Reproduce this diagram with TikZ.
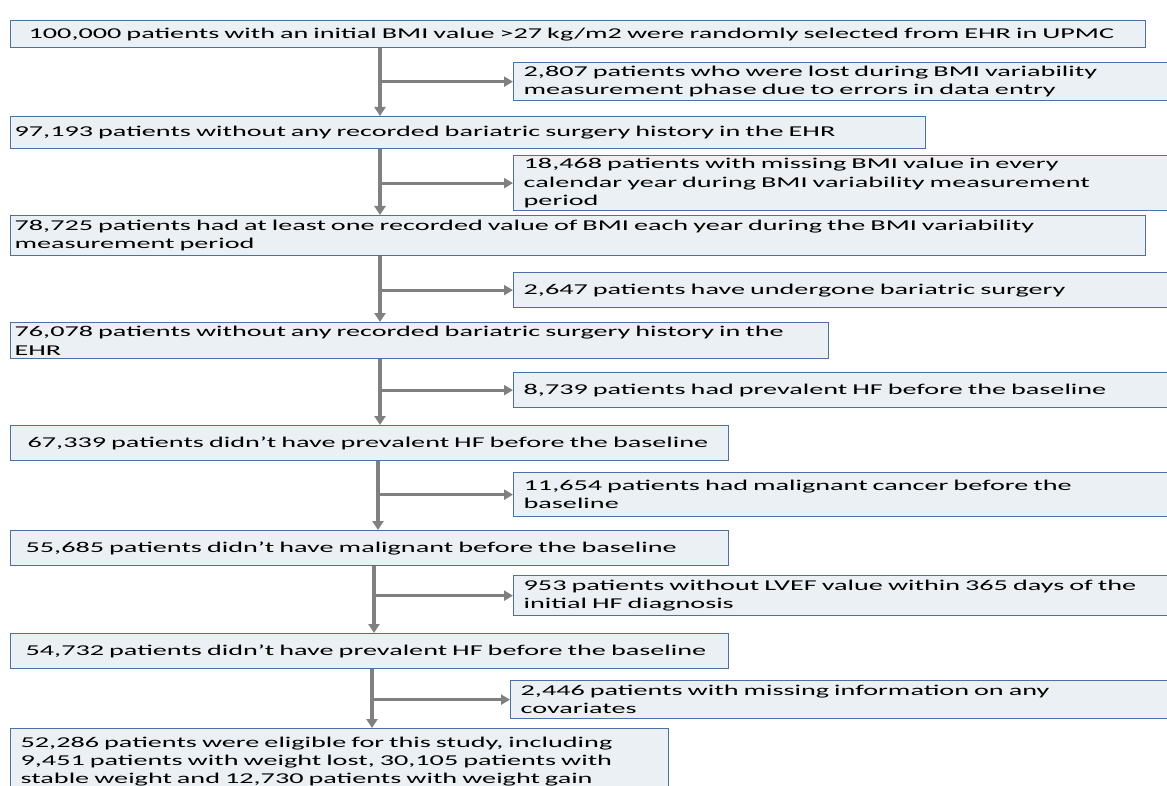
\documentclass[tikz,border=0pt]{standalone}
\usepackage{fontspec}
\setmainfont{Carlito}[FakeStretch=1.88]
\usetikzlibrary{arrows.meta}
\definecolor{boxfill}{HTML}{EAF0F4}
\definecolor{boxline}{HTML}{4C6FA6}
\definecolor{arrowgray}{HTML}{808080}
\tikzset{
  fbox/.style={draw=boxline, line width=1.3pt, fill=boxfill, anchor=north west,
    align=left, inner ysep=0pt, font=\fontsize{15}{18.3}\selectfont},
  vline/.style={draw=arrowgray, line width=4pt, -{Triangle[length=9pt,width=11pt]}},
  hline/.style={draw=arrowgray, line width=3pt, -{Triangle[length=9pt,width=10pt]}},
}
\newcommand{\fbx}[7]{% name, x1, y1, x2, y2, pad, text
  \pgfmathsetlengthmacro{\bw}{(#4-#2)*1pt}%
  \pgfmathsetlengthmacro{\bh}{(#5-#3)*1pt}%
  \pgfmathsetlengthmacro{\tw}{(#4-#2-2*#6)*1pt}%
  \node[fbox, minimum width=\bw, minimum height=\bh, text width=\tw, inner xsep=#6pt] (#1) at (#2,#3) {#7};}
\begin{document}
\begin{tikzpicture}[x=1pt,y=-1pt]
\useasboundingbox (0,0) rectangle (1167,786);
\clip (0,0) rectangle (1167,786);
\fbx{b1}{10}{20}{1145}{47}{18}{100,000 patients with an initial BMI value >27 kg/m2 were randomly selected from EHR in UPMC}
\fbx{s1}{513}{62}{1170}{100}{10}{2,807 patients who were lost during BMI variability\\measurement phase due to errors in data entry}
\fbx{b2}{10}{116}{925}{148}{4}{97,193 patients without any recorded bariatric surgery history in the EHR}
\fbx{s2}{513}{155}{1170}{210}{10}{18,468 patients with missing BMI value in every\\calendar year during BMI variability measurement\\period}
\fbx{b3}{10}{215}{1145}{255}{4}{78,725 patients had at least one recorded value of BMI each year during the BMI variability\\measurement period}
\fbx{s3}{513}{272}{1170}{307}{10}{2,647 patients have undergone bariatric surgery}
\fbx{b4}{10}{322}{828}{358}{4}{76,078 patients without any recorded bariatric surgery history in the\\EHR}
\fbx{s4}{513}{372}{1170}{407}{10}{8,739 patients had prevalent HF before the baseline}
\fbx{b5}{10}{425}{728}{460}{17}{67,339 patients didn’t have prevalent HF before the baseline}
\fbx{s5}{513}{472}{1170}{516}{10}{11,654 patients had malignant cancer before the\\baseline}
\fbx{b6}{10}{530}{728}{565}{15}{55,685 patients didn’t have malignant before the baseline}
\fbx{s6}{513}{575}{1170}{615}{10}{953 patients without LVEF value within 365 days of the\\initial HF diagnosis}
\fbx{b7}{10}{633}{728}{668}{15}{54,732 patients didn’t have prevalent HF before the baseline}
\fbx{s7}{510}{680}{1170}{718}{10}{2,446 patients with missing information on any\\covariates}
\fbx{b8}{10}{728}{668}{794}{10}{52,286 patients were eligible for this study, including\\9,451 patients with weight lost, 30,105 patients with\\stable weight and 12,730 patients with weight gain\\[12pt]}
\coordinate (a1) at (380,0);
\coordinate (a5) at (378,0);
\coordinate (a6) at (374,0);
\coordinate (a7) at (372,0);
\draw[vline] (b1.south -| a1) -- (b2.north -| a1);
\draw[vline] (b2.south -| a1) -- (b3.north -| a1);
\draw[vline] (b3.south -| a1) -- (b4.north -| a1);
\draw[vline] (b4.south -| a1) -- (b5.north -| a1);
\draw[vline] (b5.south -| a5) -- (b6.north -| a5);
\draw[vline] (b6.south -| a6) -- (b7.north -| a6);
\draw[vline] (b7.south -| a7) -- (b8.north -| a7);
\draw[hline] (a1 |- s1.west) -- (s1.west);
\draw[hline] (a1 |- s2.west) -- (s2.west);
\draw[hline] (a1 |- s3.west) -- (s3.west);
\draw[hline] (a1 |- s4.west) -- (s4.west);
\draw[hline] (a5 |- s5.west) -- (s5.west);
\draw[hline] (a6 |- s6.west) -- (s6.west);
\draw[hline] (a7 |- s7.west) -- (s7.west);
\end{tikzpicture}
\end{document}
